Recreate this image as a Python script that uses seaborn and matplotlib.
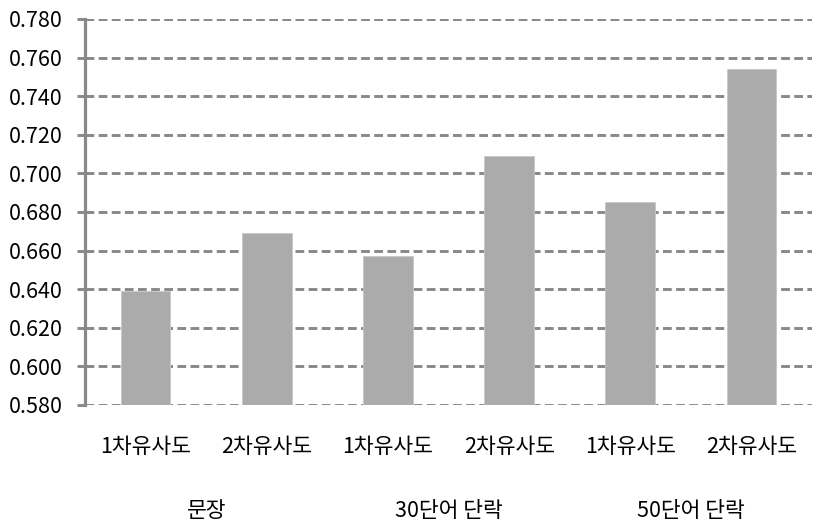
import matplotlib
matplotlib.use("Agg")
import matplotlib.pyplot as plt
import matplotlib.transforms as mtransforms
import seaborn as sns
import pandas as pd

groups = ["문장", "30단어 단락", "50단어 단락"]
measures = ["1차유사도", "2차유사도"]
values = [0.639, 0.669, 0.657, 0.709, 0.685, 0.754]
yticks = [0.580, 0.600, 0.620, 0.640, 0.660, 0.680, 0.700, 0.720, 0.740, 0.760, 0.780]

sns.set_theme(style="white")
plt.rcParams['font.family'] = ['Noto Sans CJK KR', 'DejaVu Sans']

keys = [f"{g}|{m}" for g in groups for m in measures]
df = pd.DataFrame({"key": keys, "value": values})

fig = plt.figure(figsize=(8.15, 5.24), dpi=100)
ax = fig.add_axes([85/815, 1-405/524, (812-85)/815, (405-19)/524])

sns.barplot(data=df, x="key", y="value", order=keys, color="#ababab",
            saturation=1, width=0.41, ax=ax, zorder=3, edgecolor="#c8c8c8", linewidth=0.6)
ax.set_ylim(yticks[0], yticks[-1])
ax.set_xlim(-0.5, len(keys) - 0.5)
ax.set_yticks(yticks)
ax.set_yticklabels([f"{t:.3f}" for t in yticks], fontsize=15.5, color="#000000")
ax.set_xticks(range(len(keys)))
ax.set_xticklabels([m for g in groups for m in measures], fontsize=15.5, color="#000000")
ax.set_xlabel("")
ax.set_ylabel("")

for t in yticks:
    ax.axhline(t, color="#888888", linestyle=(0, (3.0, 1.5)), linewidth=2.1, zorder=1)

for s in ["top", "right", "bottom"]:
    ax.spines[s].set_visible(False)
ax.spines["left"].set_color("#888888")
ax.spines["left"].set_linewidth(2.3)
ax.spines["left"].set_zorder(4)

ax.tick_params(axis="y", which="major", direction="out", length=6, width=2.1,
               color="#888888", pad=10, left=True)
ax.tick_params(axis="x", which="major", length=0, pad=22)

trans = mtransforms.blended_transform_factory(ax.transData, fig.transFigure)
for i, g in enumerate(groups):
    ax.text(2 * i + 0.5, 1 - 511/524, g, transform=trans, ha="center", va="center",
            fontsize=15.5, color="#000000")

fig.savefig("out.png", dpi=100)
